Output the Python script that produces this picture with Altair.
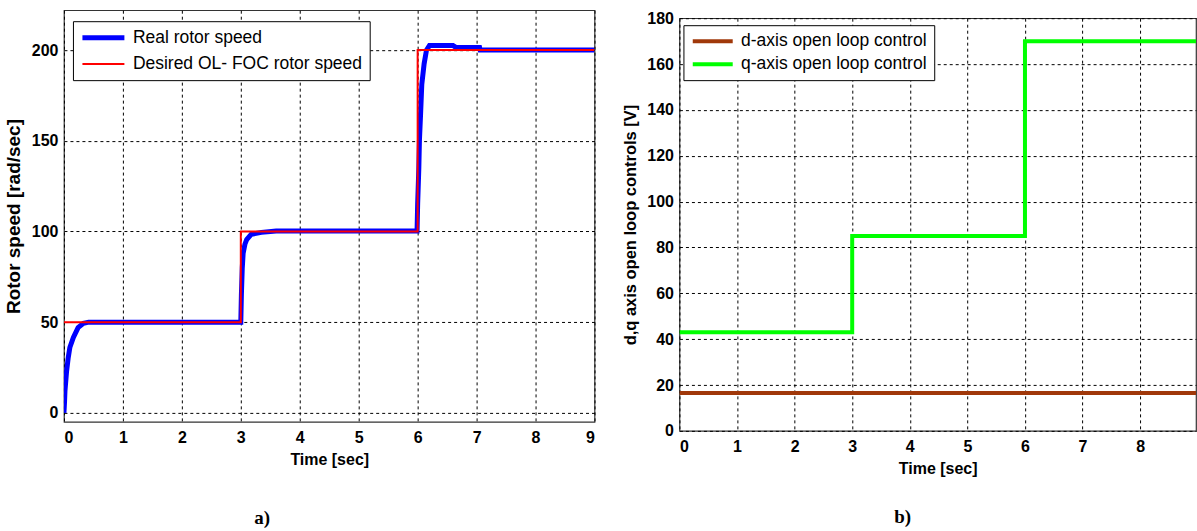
import altair as alt
import pandas as pd

# ---- panel a: rotor speed [rad/sec] ----
t_ref = [0, 3, 6, 9]
w_ref = [50, 100, 200, 200]

t_real = [0, 0.01, 0.017, 0.045, 0.073, 0.10, 0.16, 0.24, 0.33, 0.42,
          2.995, 3.0, 3.01, 3.025, 3.04, 3.07, 3.10, 3.18, 3.35, 3.6,
          5.99, 6.0, 6.02, 6.03, 6.05, 6.07, 6.11, 6.15, 6.2, 6.6,
          6.65, 7.05, 7.06, 9.0]
w_real = [0, 6, 12, 23, 30.5, 36, 41.6, 47, 49.3, 50,
          50, 50, 65, 80, 88, 93, 95.5, 98.5, 99.5, 100.2,
          100.2, 115, 135, 150, 165, 181, 192.5, 200, 202.5, 202.5,
          201.5, 201.5, 200, 200]

speed_names = ["Real rotor speed", "Desired OL- FOC rotor speed"]
speed_colors = ["#0000FF", "#FF0000"]
speed_widths = [5, 2]
speed_ticks_x = [0, 1, 2, 3, 4, 5, 6, 7, 8, 9]
speed_ticks_y = [0, 50, 100, 150, 200]

# ---- panel b: d,q open loop controls [V] ----
t_ctl = [0, 3, 6, 9]
v_d = [16.5, 16.5, 16.5, 16.5]
v_q = [43, 85, 170, 170]

ctl_names = ["d-axis open loop control", "q-axis open loop control"]
ctl_colors = ["#A0380A", "#00FF00"]
ctl_widths = [4, 4]
ctl_ticks_x = [0, 1, 2, 3, 4, 5, 6, 7, 8]
ctl_ticks_y = [0, 20, 40, 60, 80, 100, 120, 140, 160, 180]

SANS = "Liberation Sans"

real_df = pd.DataFrame({"t": t_real, "v": w_real, "series": speed_names[0]})
ref_df = pd.DataFrame({"t": t_ref, "v": w_ref, "series": speed_names[1]})
d_df = pd.DataFrame({"t": t_ctl, "v": v_d, "series": ctl_names[0]})
q_df = pd.DataFrame({"t": t_ctl, "v": v_q, "series": ctl_names[1]})


def legend(x, y, sym_len, row_gap):
    # line-sample symbol: drawn from -r to 5r, where r = sqrt(size)/2
    r = sym_len / 6.0
    return alt.Legend(
        orient="none", legendX=x, legendY=y, title=None,
        symbolType="M-1,0L5,0", symbolSize=(2 * r) ** 2,
        labelFont=SANS, labelFontSize=17.5, labelFontWeight="normal",
        labelColor="black", labelLimit=500, labelOffset=sym_len - 2 * r + 6,
        strokeColor="black", fillColor="white", padding=7,
        rowPadding=row_gap,
    )


def panel(layers_data, names, colors, widths, xdom, ydom, xticks, yticks,
          ytitle, ytitle_size, leg, interps, w, h):
    xs = alt.Scale(domain=xdom, nice=False, zero=False)
    ys = alt.Scale(domain=ydom, nice=False, zero=False)
    col = alt.Color("series:N", scale=alt.Scale(domain=names, range=colors), legend=leg)
    sw = alt.StrokeWidth("series:N", scale=alt.Scale(domain=names, range=widths), legend=leg)
    layers = []
    for df, interp in zip(layers_data, interps):
        layers.append(
            alt.Chart(df).mark_line(interpolate=interp, clip=True, strokeCap="butt").encode(
                x=alt.X("t:Q", scale=xs, axis=alt.Axis(
                    values=xticks, title="Time [sec]", titleFontSize=16,
                    labelPadding=8, titlePadding=6)),
                y=alt.Y("v:Q", scale=ys, axis=alt.Axis(
                    values=yticks, title=ytitle, titleFontSize=ytitle_size,
                    labelPadding=6, titlePadding=8)),
                color=col,
                strokeWidth=sw,
            )
        )
    return alt.layer(*layers).properties(width=w, height=h)


left = panel([real_df, ref_df], speed_names, speed_colors, speed_widths,
             [0, 9], [-5, 222], speed_ticks_x, speed_ticks_y,
             "Rotor speed [rad/sec]", 19, legend(9, 11, 42, 6),
             ["linear", "step-after"], 531, 412).properties(
    title=alt.TitleParams("a)", orient="bottom", anchor="middle", dx=-67, offset=41,
                          font="Liberation Serif", fontSize=19, fontWeight="bold",
                          color="black"))

right_plot = panel([d_df, q_df], ctl_names, ctl_colors, ctl_widths,
                   [0, 8.97], [0, 180], ctl_ticks_x, ctl_ticks_y,
                   "d,q axis open loop controls [V]", 16.5, legend(4, 15, 40, 5),
                   ["step-after", "step-after"], 517, 413).properties(
    title=alt.TitleParams("b)", orient="bottom", anchor="middle", dx=-35, offset=31,
                          font="Liberation Serif", fontSize=19, fontWeight="bold",
                          color="black"))

# empty 1px strip above panel b: the "180" label then pushes only
# panel b's frame down, below the strip
strip = alt.Chart(pd.DataFrame({"t": [0]})).mark_point(
    size=0, strokeWidth=0, opacity=0
).properties(width=517, height=1, view=alt.ViewBackground(stroke="transparent"))

right = alt.vconcat(strip, right_plot, spacing=-3)

chart = alt.hconcat(left, right, spacing=26).resolve_scale(
    color="independent", strokeWidth="independent", x="independent", y="independent"
).properties(
    padding={"left": 3, "top": 9, "right": 0, "bottom": 0},
    background="white",
).configure_view(
    stroke="#333333", strokeWidth=1.2,
).configure_axis(
    grid=True, gridColor="black", gridDash=[3, 3], gridWidth=1, gridOpacity=1,
    domain=False, ticks=False,
    labelFont=SANS, labelFontSize=16, labelFontWeight="bold", labelColor="black",
    titleFont=SANS, titleFontWeight="bold", titleColor="black",
)

chart.save("out.html", embed_options={"renderer": "svg", "actions": False})
